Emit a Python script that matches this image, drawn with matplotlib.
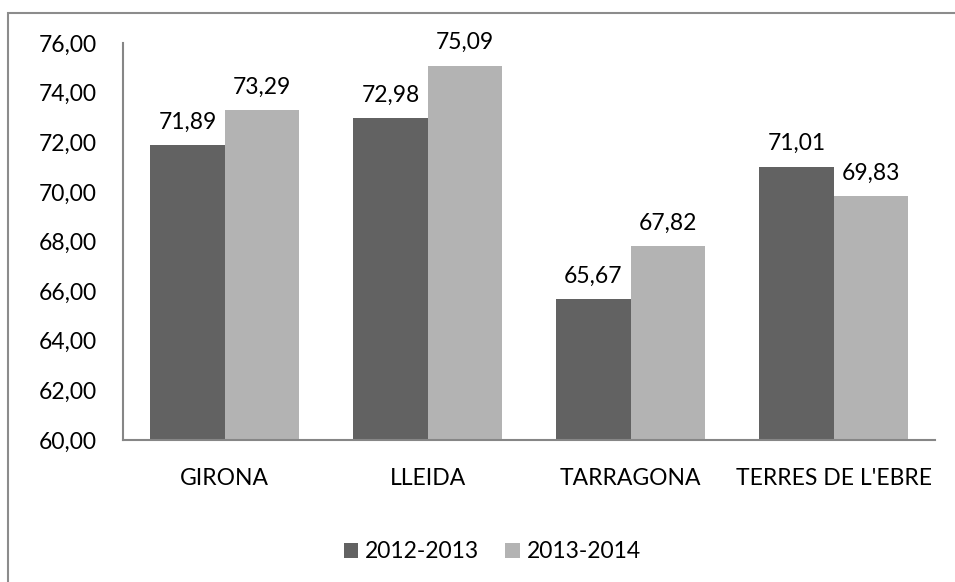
import matplotlib.pyplot as plt
import numpy as np
from matplotlib.patches import Rectangle

categories = ['GIRONA', 'LLEIDA', 'TARRAGONA', "TERRES DE L'EBRE"]
serie_2012 = [71.89, 72.98, 65.67, 71.01]
serie_2013 = [73.29, 75.09, 67.82, 69.83]
series_labels = ['2012-2013', '2013-2014']
y_ticks = [60, 62, 64, 66, 68, 70, 72, 74, 76]

plt.rcParams['font.family'] = ['Lato', 'DejaVu Sans']

fig = plt.figure(figsize=(9.55, 5.82), dpi=100)
ax = fig.add_axes([123 / 955, 1 - 440 / 582, 812 / 955, 397 / 582])

# marc exterior del gràfic
fig.patches.append(Rectangle((8 / 955, -0.1), 1.2, 1 - 13 / 582 + 0.1,
                             transform=fig.transFigure, fill=False,
                             edgecolor='#8c8c8c', linewidth=1.5))

x = np.arange(len(categories))
w = 0.365
b1 = ax.bar(x - w / 2, serie_2012, w, color='#626262', label=series_labels[0])
b2 = ax.bar(x + w / 2, serie_2013, w, color='#b3b3b3', label=series_labels[1])

def fmt(v):
    return f'{v:.2f}'.replace('.', ',')

for bars, vals in ((b1, serie_2012), (b2, serie_2013)):
    for r, v in zip(bars, vals):
        ax.annotate(fmt(v), (r.get_x() + r.get_width() / 2, v),
                    xytext=(0, 9), textcoords='offset points',
                    ha='center', va='bottom', fontsize=16.5, color='black')

ax.set_xlim(-0.5, len(categories) - 0.5)
ax.set_ylim(60, 76)
ax.set_yticks(y_ticks)
ax.set_yticklabels([fmt(t) for t in y_ticks], fontsize=16.5)
ax.set_xticks(x)
ax.set_xticklabels(categories, fontsize=16.5)
ax.tick_params(axis='both', length=0)
ax.tick_params(axis='y', pad=19)
ax.tick_params(axis='x', pad=20)

for s in ['top', 'right']:
    ax.spines[s].set_visible(False)
for s in ['left', 'bottom']:
    ax.spines[s].set_color('#868686')
    ax.spines[s].set_linewidth(1.5)

fig.legend(loc='center', bbox_to_anchor=(492 / 955, 1 - 552 / 582), ncol=2,
           frameon=False, fontsize=16.5, handlelength=0.65, handleheight=0.65,
           handletextpad=0.3, columnspacing=1.1)

fig.savefig('out.png', dpi=100)
